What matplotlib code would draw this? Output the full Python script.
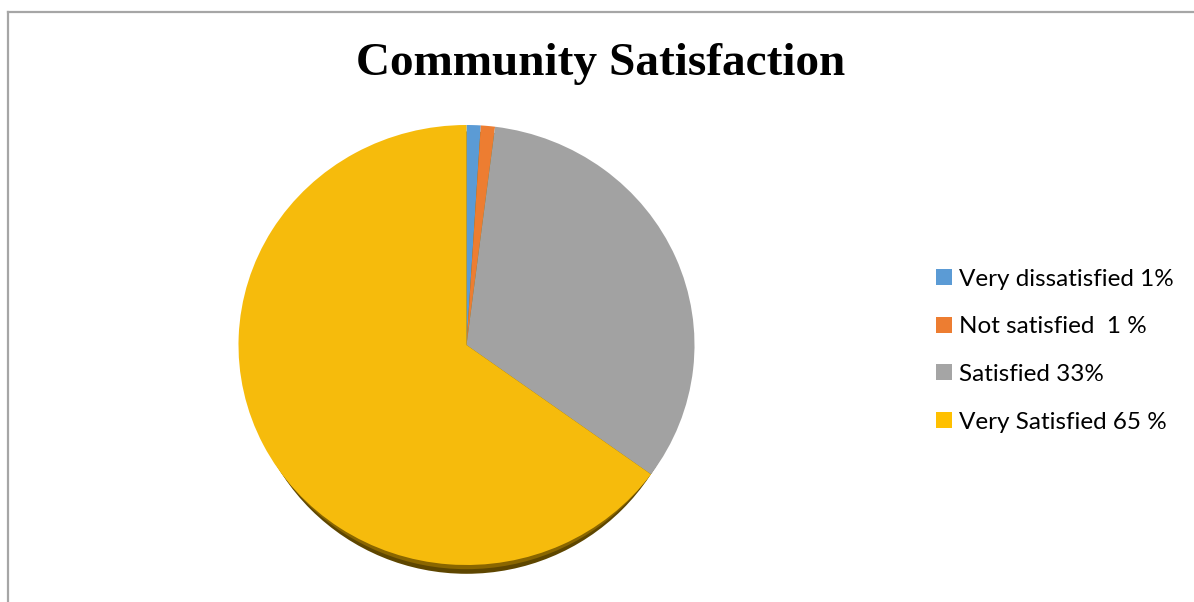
import matplotlib
matplotlib.use("Agg")
import matplotlib.pyplot as plt
from matplotlib.patches import Ellipse, Patch
from matplotlib.lines import Line2D

title = "Community Satisfaction"
categories = ["Very dissatisfied 1%", "Not satisfied  1 %", "Satisfied 33%", "Very Satisfied 65 %"]
values = [1, 1, 33, 65]
pie_colors = ["#5B9BD5", "#ED7D31", "#A2A2A2", "#F6BB0C"]
legend_colors = ["#5B9BD5", "#ED7D31", "#A5A5A5", "#FFC000"]

W, H = 1194, 602
fig = plt.figure(figsize=(W / 100, H / 100), dpi=100)
fig.patch.set_facecolor("white")

# frame lines (left and top)
fig.add_artist(Line2D([7.5 / W, 7.5 / W], [0, 1 - 11.5 / H], color="#A6A6A6", lw=1.6))
fig.add_artist(Line2D([7.5 / W, 1], [1 - 11.5 / H, 1 - 11.5 / H], color="#A6A6A6", lw=1.6))

# pie axes (pixel box)
cx, cy, rx, ry = 466.5, 345, 228, 220
ax = fig.add_axes([(cx - rx) / W, 1 - (cy + ry) / H, 2 * rx / W, 2 * ry / H])
ax.add_patch(Ellipse((0, -0.045), 1.93, 1.99, color="#5E4600", zorder=0, lw=0, clip_on=False))
ax.add_patch(Ellipse((0, -0.024), 1.96, 1.99, color="#8A6600", zorder=0.5, lw=0, clip_on=False))
ax.pie(values, colors=pie_colors, startangle=90, counterclock=False,
       wedgeprops=dict(linewidth=0), radius=1)
ax.set_aspect("auto")
ax.set_xlim(-1, 1)
ax.set_ylim(-1, 1)
ax.axis("off")

fig.text(601 / W, 1 - 64 / H, title, ha="center", va="center",
         fontsize=34, fontweight="bold", family="Liberation Serif")

handles = [Patch(facecolor=c, edgecolor="none") for c in legend_colors]
fig.legend(handles, categories, loc="upper left",
           bbox_to_anchor=(936 / W, 1 - 268.5 / H), frameon=False,
           prop=dict(family="Lato", size=17.5), handlelength=0.64, handleheight=0.64,
           handletextpad=0.3, labelspacing=1.1, borderaxespad=0, borderpad=0)

fig.savefig("out.png", dpi=100, facecolor="white")
